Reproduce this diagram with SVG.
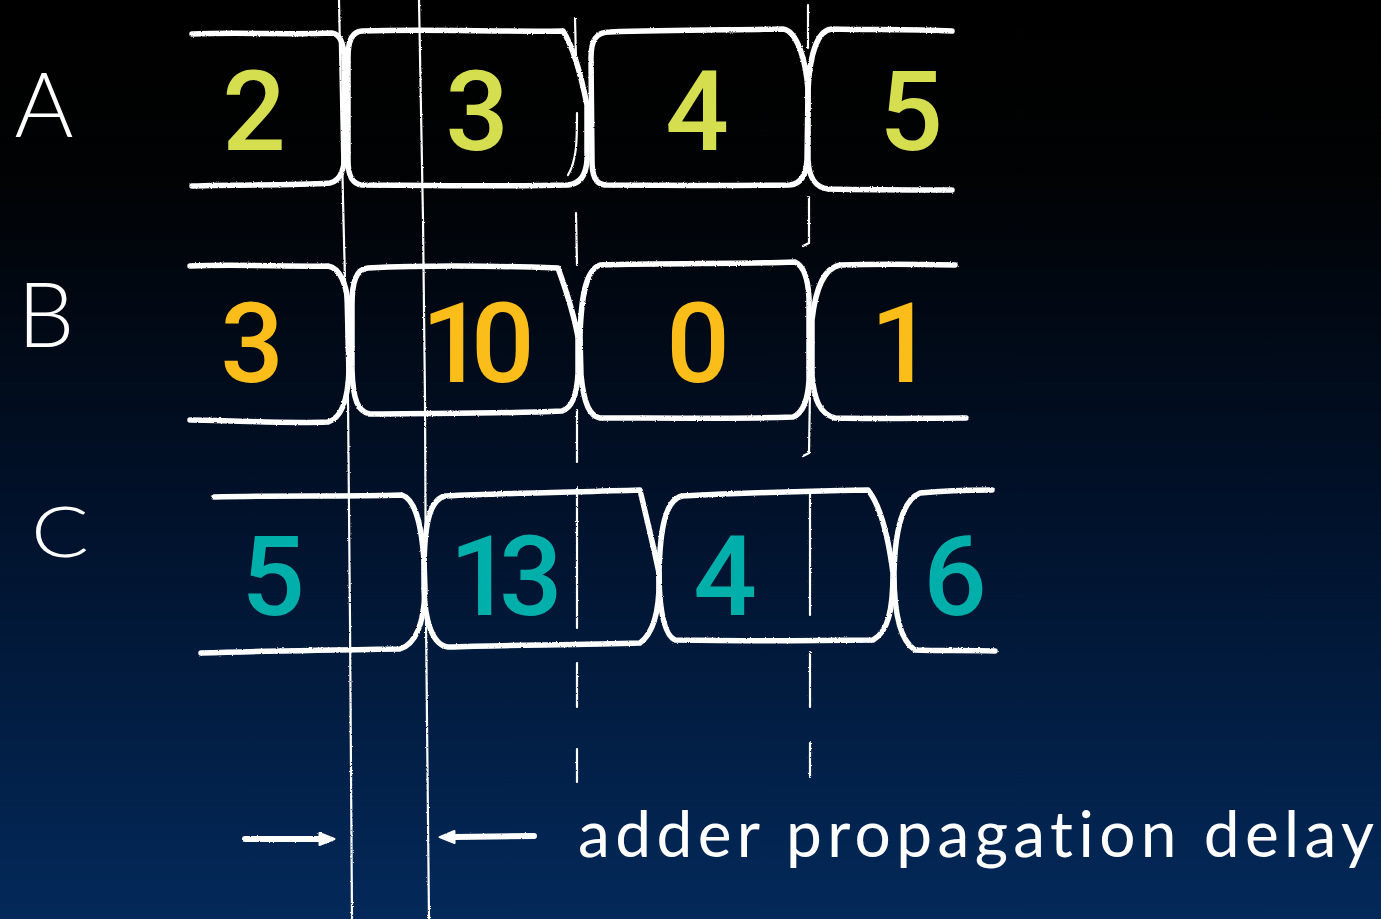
<svg xmlns="http://www.w3.org/2000/svg" width="1381" height="919" viewBox="0 0 1381 919">
  <defs>
    <linearGradient id="bg" x1="0" y1="0" x2="0" y2="1">
      <stop offset="0" stop-color="#000000"/>
      <stop offset="0.18" stop-color="#010203"/>
      <stop offset="0.55" stop-color="#01112a"/>
      <stop offset="1" stop-color="#03295a"/>
    </linearGradient>
    <filter id="chalk" x="-5%" y="-5%" width="110%" height="110%">
      <feTurbulence type="fractalNoise" baseFrequency="0.8" numOctaves="2" seed="3" result="n"/>
      <feDisplacementMap in="SourceGraphic" in2="n" scale="2.2" xChannelSelector="R" yChannelSelector="G"/>
    </filter>
    <marker id="head" viewBox="0 0 18 16" refX="2" refY="8" markerWidth="18" markerHeight="16" markerUnits="userSpaceOnUse" orient="auto">
      <path d="M1.5,2 L16.5,8 L1.5,14 Z" fill="#ffffff" stroke="#ffffff" stroke-width="2" stroke-linejoin="round"/>
    </marker>
    <style>
      .wave { fill: none; stroke: #ffffff; stroke-width: 5.5; stroke-linecap: round; stroke-linejoin: round; }
      .guide { fill: none; stroke: #ffffff; stroke-width: 2.2; stroke-linecap: round; }
      .arrow { fill: none; stroke: #ffffff; stroke-width: 6; stroke-linecap: round; }
      .val { font-family: Roboto, "Liberation Sans", sans-serif; font-weight: 500; font-size: 112px; text-anchor: middle; }
      .va { fill: #d5de4f; }
      .vb { fill: #fbbd19; }
      .vc { fill: #00afa9; }
      .hand { font-family: Lato, "Open Sans", "DejaVu Sans", sans-serif; font-weight: 300; fill: #ffffff; font-variant-ligatures: none; }
      .cap { font-weight: 400; }
      .lbl { text-anchor: middle; }
    </style>
  </defs>

  <rect x="0" y="0" width="1381" height="919" fill="url(#bg)"/>

  <g id="labels" class="hand">
    <text class="lbl" x="44" y="137" font-size="90">A</text>
    <text class="lbl" x="46" y="347" font-size="90">B</text>
    <text x="31" y="557" font-size="70" textLength="58" lengthAdjust="spacingAndGlyphs">C</text>
  </g>

  <g id="connectors" filter="url(#chalk)">
    <path class="guide" d="M339,0 L343,200 L348,400 L350,620 L352,919"/>
    <path class="guide" d="M419,0 L423,220 L425,400 L426,620 L429,919"/>
    <path class="guide" d="M575,18 L576,60 M577,113 C577,140 577,160 568,175 M576,213 L577,265 M577,410 L577,462 M577,488 L577,628 M577,663 L577,707 M577,749 L577,782"/>
    <path class="guide" d="M808,5 L808,48 M809,197 L809,243 L803,246 M810,390 L809,453 L803,456 M810,490 L810,615 M810,652 L810,707 M810,743 L810,777"/>
    <path class="arrow" d="M245,839 L320,839" marker-end="url(#head)"/>
    <path class="arrow" d="M534,836 L454,837" marker-end="url(#head)"/>
  </g>

  <g id="signal-A" filter="url(#chalk)">
    <path class="wave" d="M192,34 C240,32 290,35 332,33 C340,34 344,44 344,58 L345,150 C345,170 340,181 330,183 C290,186 240,184 192,186"/>
    <path class="wave" d="M348,58 C348,40 352,32 362,31 C430,29 500,32 563,31 C572,45 581,75 587,105 L587,160 C586,176 580,184 568,185 C500,187 430,185 362,185 C352,184 348,176 348,160 Z"/>
    <path class="wave" d="M591,58 C591,40 596,32 610,32 C670,30 730,30 783,29 C797,31 806,60 808,90 L807,160 C806,177 799,184 790,185 C720,186 660,185 605,185 C595,184 592,175 592,160 Z"/>
    <path class="wave" d="M952,31 C910,29 870,30 832,29 C818,30 810,52 808,90 L808,160 C809,178 815,187 828,189 C870,190 910,190 952,190"/>
  </g>
  <g id="values-A" class="val va">
    <text x="254" y="150">2</text>
    <text x="477" y="150">3</text>
    <text x="697" y="150">4</text>
    <text x="911" y="150">5</text>
  </g>

  <g id="signal-B" filter="url(#chalk)">
    <path class="wave" d="M190,266 C240,264 290,267 328,266 C340,268 347,285 348,305 L349,370 C348,400 342,418 328,422 C280,424 230,420 190,420"/>
    <path class="wave" d="M352,305 C352,282 356,269 368,268 C430,265 500,266 558,268 C566,290 574,315 578,337 L578,373 C577,395 572,408 562,411 C500,414 430,413 370,414 C358,412 353,400 352,370 Z"/>
    <path class="wave" d="M600,265 C670,263 740,264 795,262 C804,266 808,278 809,298 L809,380 C808,398 803,413 793,417 C730,419 660,418 600,418 C590,416 584,405 581,375 L580,337 C581,300 585,270 600,265 Z"/>
    <path class="wave" d="M955,265 C910,264 870,264 840,265 C825,268 816,285 812,320 L812,375 C814,400 820,414 835,418 C880,419 920,418 966,418"/>
  </g>
  <g id="values-B" class="val vb">
    <text x="252" y="382">3</text>
    <text x="471" y="382" letter-spacing="-14">10</text>
    <text x="698" y="382">0</text>
    <text x="902" y="382">1</text>
  </g>

  <g id="signal-C" filter="url(#chalk)">
    <path class="wave" d="M214,497 C280,495 340,497 402,495 C414,499 421,520 424,560 L425,590 C424,622 416,644 400,649 C330,650 260,651 201,653"/>
    <path class="wave" d="M424,573 C424,530 428,500 445,496 C510,493 580,492 640,490 C647,520 654,548 659,573 C660,605 655,632 640,643 C570,645 500,645 448,647 C432,645 425,620 424,590 Z"/>
    <path class="wave" d="M659,573 C660,530 665,500 682,496 C740,493 810,491 868,490 C880,505 888,535 893,573 C893,610 888,632 873,640 C800,641 730,641 675,640 C664,635 660,610 659,580 Z"/>
    <path class="wave" d="M992,490 C960,490 940,491 920,493 C903,500 895,530 894,573 C894,610 899,640 915,650 C940,651 965,650 995,651"/>
  </g>
  <g id="values-C" class="val vc">
    <text x="273" y="615">5</text>
    <text x="499" y="615" letter-spacing="-14">13</text>
    <text x="725" y="615">4</text>
    <text x="955" y="615">6</text>
  </g>

  <g id="caption" class="hand cap">
    <text x="578" y="857" font-size="64" textLength="796" lengthAdjust="spacing">adder propagation delay</text>
  </g>
</svg>
